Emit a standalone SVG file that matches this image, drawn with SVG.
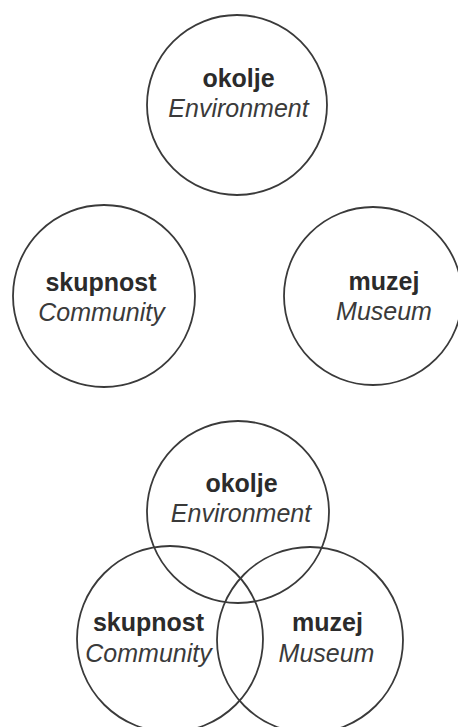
<svg xmlns="http://www.w3.org/2000/svg" width="458" height="727" viewBox="0 0 458 727">
<style>
.c{fill:none;stroke:#3a3a3a;stroke-width:1.8}
.b{font-family:"Liberation Sans",Arial,sans-serif;font-weight:bold;font-size:25px;fill:#2b2b2b;text-anchor:middle}
.i{font-family:"Liberation Sans",Arial,sans-serif;font-style:italic;font-size:25px;fill:#3a3a3a;text-anchor:middle}
</style>
<rect width="458" height="727" fill="#fff"/>
<g id="top-okolje">
<circle class="c" cx="237" cy="105" r="90"/>
<text class="b" x="238.5" y="87">okolje</text>
<text class="i" x="238.5" y="117">Environment</text>
</g>
<g id="top-skupnost">
<circle class="c" cx="104" cy="296" r="91"/>
<text class="b" x="101" y="291">skupnost</text>
<text class="i" x="101.5" y="321">Community</text>
</g>
<g id="top-muzej">
<circle class="c" cx="373" cy="296" r="89"/>
<text class="b" x="384" y="290">muzej</text>
<text class="i" x="384" y="320">Museum</text>
</g>
<g id="venn-okolje">
<circle class="c" cx="238" cy="512" r="91"/>
<text class="b" x="241.5" y="491.5">okolje</text>
<text class="i" x="241" y="521.5">Environment</text>
</g>
<g id="venn-skupnost">
<circle class="c" cx="170" cy="639" r="93"/>
<text class="b" x="148.5" y="631">skupnost</text>
<text class="i" x="148.5" y="661.5">Community</text>
</g>
<g id="venn-muzej">
<circle class="c" cx="310" cy="640" r="93"/>
<text class="b" x="327.5" y="631">muzej</text>
<text class="i" x="326.5" y="662">Museum</text>
</g>
<g id="connectors"/>
</svg>
